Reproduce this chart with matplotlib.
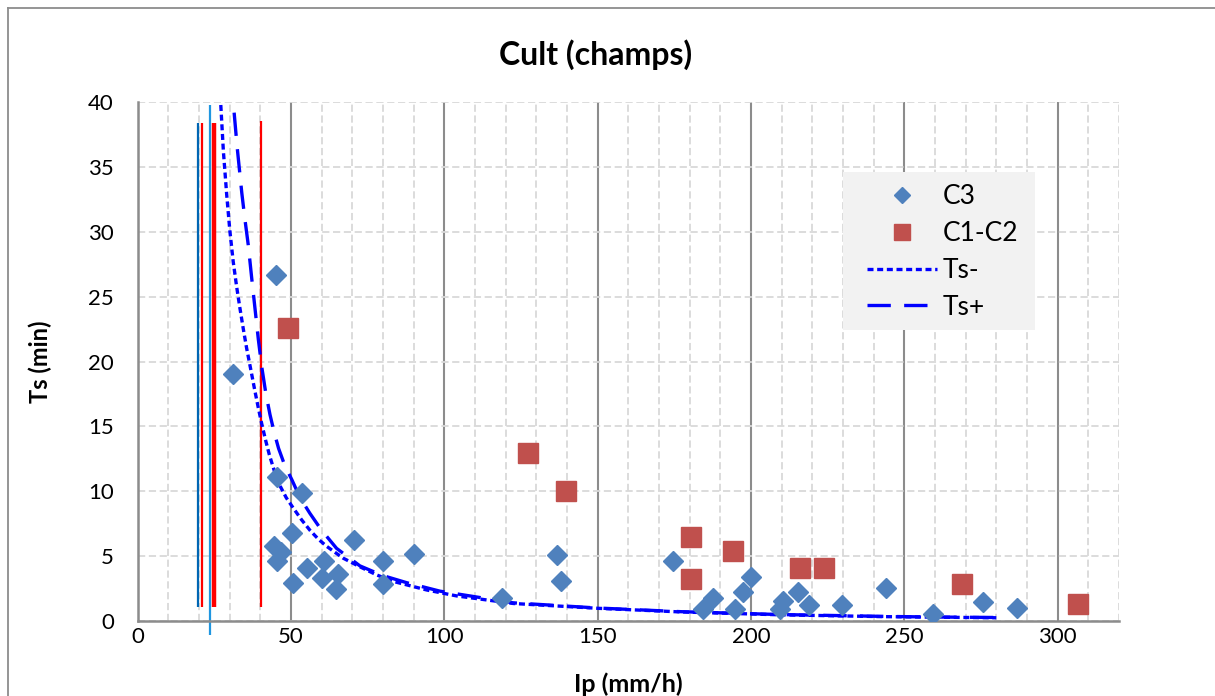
import matplotlib.pyplot as plt
from matplotlib.patches import Rectangle
from matplotlib.lines import Line2D

plt.rcParams['font.family'] = ['Lato', 'DejaVu Sans']

# C3 points (Ip mm/h, Ts min)
c3_ip = [45.2, 31.0, 45.4, 53.5, 50.5, 44.6, 46.8, 45.4, 55.2, 50.6, 60.9, 60.0,
         65.5, 64.7, 70.7, 80.1, 80.1, 90.0, 118.7, 136.7, 138.1, 174.5, 184.5,
         187.7, 194.8, 197.5, 200.0, 209.5, 210.5, 215.4, 218.9, 229.6, 243.9,
         259.2, 275.7, 286.9]
c3_ts = [26.7, 19.0, 11.1, 9.9, 6.76, 5.8, 5.3, 4.6, 4.1, 2.95, 4.6, 3.3,
         3.6, 2.44, 6.24, 4.65, 2.83, 5.14, 1.75, 5.09, 3.11, 4.62, 0.9,
         1.75, 0.9, 2.26, 3.42, 0.9, 1.54, 2.26, 1.23, 1.23, 2.57,
         0.54, 1.49, 0.98]

# C1-C2 points
c12_ip = [49.2, 127.3, 139.7, 180.4, 180.4, 194.2, 216.0, 223.8, 268.7, 306.7]
c12_ts = [22.6, 12.95, 10.0, 6.5, 3.21, 5.39, 4.11, 4.06, 2.83, 1.28]

# Ts- curve
tsm_ip = [26.6, 27.1, 28.0, 29.1, 30.1, 31.2, 32.3, 33.4, 34.5, 35.6, 37.0, 38.3,
          39.5, 40.5, 41.8, 43.0, 44.7, 46.5, 48.5, 50.8, 53.5, 56.2, 59.0, 61.7,
          67.0, 72.5, 78.0, 83.4, 94.3, 104.1, 122.5, 150.0, 177.0, 209.0, 242.0,
          258.0, 280.0]
tsm_ts = [42.0, 40.0, 36.2, 32.8, 30.1, 27.7, 25.8, 24.1, 22.5, 21.0, 19.3, 17.7,
          16.3, 15.2, 13.9, 12.8, 11.5, 10.4, 9.5, 8.7, 7.8, 7.0, 6.3, 5.75,
          4.85, 4.18, 3.55, 3.05, 2.39, 1.93, 1.35, 0.98, 0.70, 0.48, 0.34,
          0.30, 0.25]

# Ts+ curve
tsp_ip = [30.8, 31.2, 32.5, 34.0, 35.0, 36.1, 37.2, 38.3, 39.4, 40.5, 41.8, 43.2,
          44.6, 46.0, 48.0, 50.3, 53.0, 56.2, 60.0, 64.9, 72.5, 80.0, 87.8, 98.6,
          122.5, 150.0, 177.0, 209.0, 242.0, 258.0, 280.0]
tsp_ts = [42.0, 40.0, 36.5, 33.0, 31.0, 29.0, 26.5, 24.1, 21.7, 19.6, 17.6, 15.9,
          14.5, 13.3, 12.0, 10.9, 9.5, 8.3, 7.0, 5.6, 4.25, 3.5, 2.95, 2.3,
          1.4, 1.0, 0.72, 0.50, 0.36, 0.31, 0.27]

# vertical threshold lines
vl_ip = [19.8, 21.1, 23.6, 24.8, 40.4]
vl_lo = [1.1, 1.1, -1.1, 1.1, 1.1]
vl_hi = [38.4, 38.4, 39.8, 38.4, 38.5]
vl_col = ['#0066B3', '#FF0000', '#1F96E0', '#FF0000', '#FF0000']
vl_lw = [1.6, 1.6, 1.6, 3.2, 1.6]

fig = plt.figure(figsize=(12.15, 6.96), dpi=100)
ax = fig.add_axes([137.5 / 1215, 1 - 621 / 696, (1119 - 137.5) / 1215, (621 - 102) / 696])

# chart area border (cut at right/bottom)
fig.add_artist(Line2D([8 / 1215, 1.0], [1 - 8 / 696, 1 - 8 / 696], transform=fig.transFigure,
                      color='#8C8C8C', lw=1.3))
fig.add_artist(Line2D([8 / 1215, 8 / 1215], [1 - 8 / 696, 0.0], transform=fig.transFigure,
                      color='#8C8C8C', lw=1.3))

ax.set_xlim(0, 320)
ax.set_ylim(0, 40)
ax.set_xticks(range(0, 301, 50))
ax.set_xticks(range(0, 321, 10), minor=True)
ax.set_yticks(range(0, 41, 5))
ax.grid(which='minor', axis='x', color='#D9D9D9', ls=(0, (4, 2)), lw=1.3, zorder=0)
ax.grid(which='major', axis='x', color='#8C8C8C', ls='-', lw=1.5, zorder=0)
ax.grid(which='major', axis='y', color='#D9D9D9', ls=(0, (4, 2)), lw=1.3, zorder=0)
ax.set_axisbelow(True)
for s in ['top', 'right']:
    ax.spines[s].set_visible(False)
for s in ['left', 'bottom']:
    ax.spines[s].set_color('#8C8C8C')
    ax.spines[s].set_linewidth(1.8)
ax.tick_params(which='both', length=0, labelsize=16)
ax.tick_params(axis='y', pad=17)
ax.tick_params(axis='x', pad=4)

ax.vlines(vl_ip, vl_lo, vl_hi, colors=vl_col, linewidths=vl_lw, clip_on=False, zorder=2)

ax.plot(tsm_ip, tsm_ts, color='#0000FF', lw=2.4, ls=(0, (1.8, 1.1)), zorder=3, label='Ts-')
ax.plot(tsp_ip, tsp_ts, color='#0000FF', lw=2.4, ls=(0, (7, 4)), zorder=3, label='Ts+')

ax.plot(c3_ip, c3_ts, ls='none', marker='D', ms=10, color='#4F81BD', zorder=4, label='C3')
ax.plot(c12_ip, c12_ts, ls='none', marker='s', ms=14, color='#C0504D', zorder=4, label='C1-C2')

fig.text(596 / 1215, 1 - 55 / 696, 'Cult (champs)', ha='center', va='center',
         fontsize=23, fontweight='bold')
ax.set_xlabel('Ip (mm/h)', fontsize=18, fontweight='bold', va='center')
ax.xaxis.set_label_coords(0.5, (621 - 684) / 519)
ax.set_ylabel('Ts (min)', fontsize=17, fontweight='bold', va='center')
ax.yaxis.set_label_coords((40 - 137.5) / 981.5, 0.5)

# legend background
ax.add_patch(Rectangle(((843 - 137.5) / 981.5, (621 - 330) / 519), 192 / 981.5, 158 / 519,
                       transform=ax.transAxes, facecolor='#F2F2F2', edgecolor='none', zorder=5))
h, l = ax.get_legend_handles_labels()
order = [2, 3, 0, 1]
leg = ax.legend([h[i] for i in order], [l[i] for i in order], loc='upper left',
                bbox_to_anchor=((867 - 137.5) / 981.5, (621 - 184) / 519),
                frameon=False, fontsize=19, handlelength=2.65, handletextpad=0.23,
                labelspacing=0.45, borderpad=0, borderaxespad=0, markerscale=0.85)
leg.set_zorder(6)

fig.savefig('out.png', dpi=100)
